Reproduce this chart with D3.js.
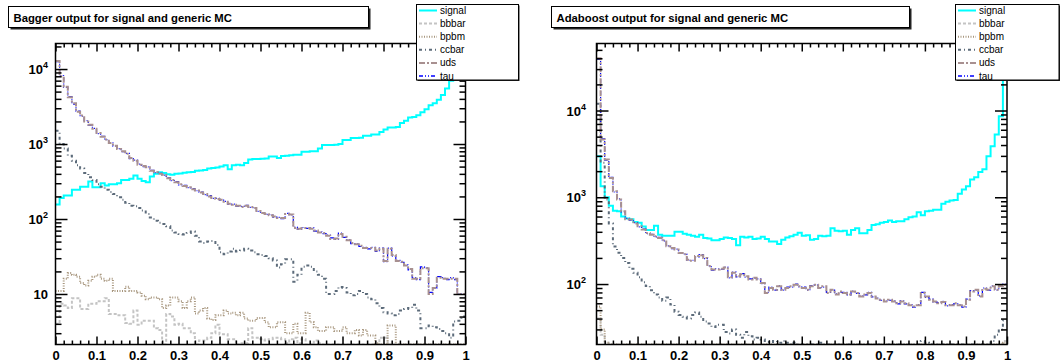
<!DOCTYPE html>
<html>
<head>
<meta charset="utf-8">
<script src="https://cdn.jsdelivr.net/npm/d3@7"></script>
<style>
  body { margin: 0; background: #fff; }
  svg { display: block; font-family: "Liberation Sans", Arial, Helvetica, sans-serif; }
</style>
</head>
<body>
<div id="chart"></div>
<script>
// 100 bins from 0 to 1, bin contents
const nBins = 100;
const seriesNames = ['signal', 'bbbar', 'bpbm', 'ccbar', 'uds', 'tau'];
const xTickLabels = ['0', '0.1', '0.2', '0.3', '0.4', '0.5', '0.6', '0.7', '0.8', '0.9', '1'];
const panelTitles = ['Bagger output for signal and generic MC', 'Adaboost output for signal and generic MC'];

// Bagger (left)
const baggerSignal = [156, 190, 205, 205, 245, 245, 270, 270, 316, 265,
  265, 300, 280, 290, 290, 300, 330, 330, 345, 380,
  345, 320, 310, 370, 400, 420, 410, 395, 390, 400,
  405, 415, 420, 425, 440, 445, 450, 470, 480, 485,
  500, 520, 460, 520, 530, 520, 560, 620, 630, 630,
  635, 640, 680, 680, 650, 690, 700, 710, 720, 720,
  790, 790, 800, 800, 870, 970, 970, 970, 980, 1000,
  1130, 1130, 1200, 1200, 1210, 1290, 1290, 1340, 1340, 1450,
  1560, 1660, 1660, 1680, 1910, 2040, 2260, 2300, 2420, 2660,
  2900, 3300, 3500, 3900, 4500, 5500, 7000, 8500, 11000, 14000];
const baggerBbbar = [4.0, 7.4, 7.0, 6.5, 8.8, 8.8, 6.3, 6.3, 7.4, 7.4,
  8.0, 8.0, 8.8, 5.4, 5.4, 5.2, 5.2, 4.1, 4.0, 6.0,
  3.9, 4.4, 4.4, 4.4, 3.5, 3.3, 2.0, 5.4, 5.0, 3.9,
  4.0, 3.5, 3.5, 3.0, 2.0, 2.4, 2.4, 2.6, 3.0, 3.9,
  2.9, 2.9, 2.5, 2.5, 2.0, 2.2, 2.2, 3.5, 2.6, 2.6,
  2.5, 2.4, 2.5, 2.6, 2.6, 2.5, 2.2, 2.5, 2.6, 2.2,
  2.5, 2.0, 2.0, 2.4, 2.2, 2.0, 2.0, 0, 0, 0,
  0, 0, 0, 0, 0, 0, 0, 0, 0, 2.6,
  2.6, 0, 0, 0, 0, 0, 0, 0, 0, 0,
  0, 0, 0, 0, 0, 0, 0, 0, 0, 0];
const baggerBpbm = [11, 11, 16, 19, 18, 17, 14, 13, 15, 17,
  18, 16, 15, 16, 11, 11, 11, 12.5, 11, 11,
  10.5, 9.5, 8.5, 9, 9, 8.5, 6.5, 7, 9, 9,
  8, 6.5, 8, 9, 5.5, 6, 6.5, 4.7, 4.5, 5.2,
  5.2, 6, 5.5, 5.6, 5.2, 5.6, 4.7, 4.4, 4.4, 4.8,
  4.8, 4.2, 3.6, 3.6, 4.2, 4.2, 3.0, 3.0, 4.0, 3.0,
  3.0, 5.6, 4.2, 3.6, 3.2, 3.2, 3.6, 3.6, 3.2, 3.2,
  3.6, 3.0, 3.0, 3.3, 2.8, 3.3, 2.8, 2.8, 2.2, 0,
  0, 3.8, 3.8, 0, 0, 0, 0, 0, 0, 0,
  0, 0, 0, 0, 0, 0, 0, 0, 0, 0];
const baggerCcbar = [1500, 1000, 870, 700, 600, 520, 470, 410, 360, 330,
  290, 270, 245, 230, 215, 195, 180, 165, 150, 148,
  140, 130, 117, 105, 95, 89, 86, 80, 70, 66,
  63, 62, 65, 68, 60, 50, 48, 50, 51, 45,
  36, 34, 37, 40, 37, 38, 40, 38, 36, 34,
  33, 32, 30, 28, 22.5, 25, 29, 29, 14.6, 18,
  23, 24, 23, 20, 18, 16, 10, 10, 11, 12.4,
  12, 10.5, 9.6, 10, 11, 10, 9, 8.5, 7.5, 6.5,
  5.7, 5.5, 5.2, 5.4, 6, 6.3, 6.5, 7.2, 6, 3.5,
  3.5, 3.8, 3.6, 3.4, 3.2, 3, 2.6, 4.3, 4.4, 5];
const baggerUds = [12800, 8000, 5800, 4200, 3500, 2700, 2400, 2000, 1800, 1600,
  1400, 1250, 1150, 1030, 950, 860, 800, 740, 650, 600,
  530, 510, 490, 440, 420, 400, 390, 350, 330, 310,
  290, 275, 265, 250, 240, 225, 215, 200, 190, 185,
  180, 170, 160, 155, 150, 145, 150, 145, 140, 128,
  120, 117, 112, 108, 103, 103, 117, 115, 76, 74,
  76, 76, 74, 70, 66, 65, 60, 54, 55, 63,
  58, 52, 48, 46, 44, 41, 41, 41, 38, 40,
  27.6, 40, 33, 27.6, 27, 24, 21.5, 16, 16, 22,
  22, 10, 12, 16.5, 16, 16, 16, 16, 10, 10];
const baggerTau = [12500, 8200, 5700, 4300, 3400, 2750, 2350, 2050, 1780, 1620,
  1380, 1270, 1140, 1040, 940, 870, 790, 750, 640, 610,
  540, 500, 495, 445, 415, 405, 385, 355, 325, 315,
  285, 280, 262, 255, 238, 228, 212, 205, 188, 188,
  178, 172, 158, 158, 148, 147, 152, 143, 142, 126,
  122, 115, 114, 106, 105, 101, 119, 113, 78, 73,
  77, 75, 76, 69, 67, 64, 61, 56, 54, 65,
  57, 53, 47, 47, 43, 42, 40, 42, 37, 41,
  27, 41, 32, 28, 26.5, 24.5, 21, 16.5, 15.5, 23,
  22.5, 10.5, 12, 17, 16.5, 15.5, 16.5, 15.5, 10, 10];

// Adaboost (right)
const adaSignal = [2970, 1340, 1000, 800, 700, 690, 600, 570, 560, 520,
  510, 460, 420, 420, 470, 370, 360, 360, 360, 400,
  400, 380, 370, 360, 350, 370, 340, 335, 320, 320,
  330, 345, 340, 330, 280, 350, 345, 350, 330, 335,
  350, 330, 310, 310, 290, 325, 345, 355, 370, 390,
  360, 365, 325, 330, 360, 355, 360, 440, 410, 405,
  410, 370, 420, 440, 385, 385, 420, 480, 490, 510,
  520, 540, 520, 530, 530, 560, 590, 600, 670, 620,
  690, 700, 720, 720, 840, 890, 920, 930, 1100, 1230,
  1340, 1600, 1700, 1950, 2100, 2970, 3870, 5300, 8600, 25000];
const adaBbbar = [40, 26, 21, 0, 0, 0, 0, 0, 0, 0,
  0, 0, 0, 0, 0, 0, 0, 0, 0, 0,
  0, 0, 0, 0, 0, 0, 0, 0, 0, 0,
  0, 0, 0, 0, 0, 0, 0, 0, 0, 0,
  0, 0, 0, 0, 0, 0, 0, 0, 0, 0,
  0, 0, 0, 0, 0, 0, 0, 0, 0, 0,
  0, 0, 0, 0, 0, 0, 0, 0, 0, 0,
  0, 0, 0, 0, 0, 0, 0, 0, 0, 0,
  21, 0, 0, 0, 0, 0, 0, 0, 0, 0,
  0, 0, 0, 0, 0, 0, 0, 0, 0, 22];
const adaBpbm = [55, 30, 21, 0, 0, 0, 0, 0, 0, 0,
  0, 0, 0, 0, 0, 0, 0, 0, 0, 0,
  0, 0, 0, 0, 0, 0, 0, 0, 0, 0,
  0, 0, 0, 0, 0, 0, 0, 0, 0, 0,
  0, 0, 0, 0, 0, 0, 0, 0, 0, 0,
  0, 0, 0, 0, 0, 0, 0, 0, 0, 0,
  0, 0, 0, 0, 0, 0, 0, 0, 0, 0,
  0, 0, 0, 0, 0, 0, 0, 0, 0, 0,
  0, 0, 0, 0, 0, 0, 0, 0, 0, 0,
  0, 0, 0, 0, 0, 0, 0, 0, 0, 21];
const adaCcbar = [12000, 2500, 940, 500, 270, 230, 200, 175, 150, 135,
  120, 105, 95, 85, 76, 70, 64, 70, 58, 48,
  44, 42, 40, 44, 47, 42, 37, 35, 32, 34,
  34, 28, 27, 30, 26, 24, 28, 25, 23, 24,
  23, 22, 21.5, 22, 21, 22, 21, 20, 21, 20,
  19.5, 19, 20, 19, 21, 19, 18, 19, 20, 18,
  19, 18, 17, 18, 19, 17, 18, 17, 18, 17,
  18, 17, 18, 19, 18, 17, 18, 19, 20, 22,
  21, 19, 18, 17, 18, 17, 18, 17, 18, 19,
  17, 18, 17, 18, 19, 20, 22, 26, 30, 38];
const adaUds = [40000, 4630, 2720, 1670, 1170, 940, 690, 560, 553, 500,
  463, 425, 388, 370, 355, 340, 320, 272, 260, 250,
  228, 220, 191, 185, 210, 215, 200, 160, 147, 147,
  150, 155, 120, 135, 123, 130, 123, 113, 118, 113,
  103, 79, 90, 86, 94, 86, 90, 94, 98, 94,
  90, 86, 94, 98, 90, 94, 79, 86, 76, 82,
  79, 76, 82, 79, 72, 76, 79, 72, 68, 66,
  63, 66, 63, 60, 63, 60, 57, 55, 57, 79,
  72, 66, 63, 60, 62, 57, 57, 60, 57, 55,
  66, 82, 86, 72, 88, 86, 94, 86, 95, 98];
const adaTau = [39000, 4700, 2680, 1700, 1150, 960, 680, 570, 545, 510,
  455, 430, 380, 375, 350, 345, 315, 275, 255, 252,
  225, 222, 188, 188, 205, 218, 196, 162, 145, 150,
  148, 157, 118, 137, 121, 132, 120, 115, 116, 115,
  101, 80, 92, 85, 96, 85, 92, 92, 100, 93,
  92, 85, 96, 97, 91, 92, 80, 85, 77, 80,
  80, 75, 83, 78, 73, 75, 80, 71, 69, 65,
  64, 65, 64, 59, 64, 59, 58, 54, 58, 80,
  70, 67, 62, 61, 63, 56, 58, 59, 58, 54,
  67, 84, 85, 73, 90, 85, 95, 85, 97, 100];

// line styles per series
const seriesStyle = {
  signal: { color: '#00ffff', width: 2, dash: null },
  bbbar:  { color: '#c4c4c4', width: 2, dash: '3,2' },
  bpbm:   { color: '#a8977f', width: 2, dash: '1,1.5' },
  ccbar:  { color: '#5c6b7a', width: 2, dash: '3,3,1,3' },
  uds:    { color: '#a89090', width: 2, dash: '6,2,2,2' },
  tau:    { color: '#0000ff', width: 1.2, dash: '4,2,1,2,1,2' }
};
// tau is drawn under uds, so only bits of it show
const drawOrder = ['signal', 'bbbar', 'bpbm', 'ccbar', 'tau', 'uds'];

const width = 1061, height = 364;
const binEdges = d3.range(nBins + 1).map(i => i / nBins);

const panels = [
  {
    title: panelTitles[0],
    data: { signal: baggerSignal, bbbar: baggerBbbar, bpbm: baggerBpbm, ccbar: baggerCcbar, uds: baggerUds, tau: baggerTau },
    frame: { x0: 55.5, x1: 465.5, y0: 43.5, y1: 344.5 },
    yDomain: [2.12, 21900],
    yLabelRight: 48,
    titleBox: { x: 8.5, y: 6.5, w: 360, h: 21 },
    legend: { x: 416.5, y: 4.5, w: 102, h: 75.5, lx0: 419, lx1: 437, tx: 440 }
  },
  {
    title: panelTitles[1],
    data: { signal: adaSignal, bbbar: adaBbbar, bpbm: adaBpbm, ccbar: adaCcbar, uds: adaUds, tau: adaTau },
    frame: { x0: 596.5, x1: 1007, y0: 43.5, y1: 344.5 },
    yDomain: [20.1, 59200],
    yLabelRight: 586,
    titleBox: { x: 551.5, y: 6.5, w: 358, h: 21 },
    legend: { x: 955.5, y: 4.5, w: 103.5, h: 75.5, lx0: 958, lx1: 976, tx: 979 }
  }
];

const svg = d3.select('#chart')
  .append('svg')
  .attr('width', width)
  .attr('height', height);

svg.append('rect').attr('width', width).attr('height', height).attr('fill', '#fff');

panels.forEach((p, pi) => drawPanel(p, pi));

function drawPanel(p, pi) {
  const f = p.frame;
  const x = d3.scaleLinear().domain([0, 1]).range([f.x0, f.x1]);
  const y = d3.scaleLog().domain(p.yDomain).range([f.y1, f.y0]).clamp(true);
  const g = svg.append('g');

  // clip the histograms to the frame
  const clipId = 'clip' + pi;
  svg.append('clipPath').attr('id', clipId)
    .append('rect')
    .attr('x', f.x0).attr('y', f.y0)
    .attr('width', f.x1 - f.x0).attr('height', f.y1 - f.y0);

  const line = d3.line();
  const hists = g.append('g').attr('clip-path', `url(#${clipId})`);

  drawOrder.forEach(name => {
    const vals = p.data[name];
    const st = seriesStyle[name];
    const pts = [];
    vals.forEach((v, i) => {
      const yy = y(v > 0 ? v : p.yDomain[0] * 0.5);
      pts.push([x(binEdges[i]), yy], [x(binEdges[i + 1]), yy]);
    });
    hists.append('path')
      .attr('d', line(pts))
      .attr('fill', 'none')
      .attr('stroke', st.color)
      .attr('stroke-width', st.width)
      .attr('stroke-dasharray', st.dash)
      .attr('stroke-linejoin', 'miter');
  });

  // x axes, ticks pointing inward
  const xMajor = d3.range(0, 11).map(i => i / 10);
  const xMinor = d3.range(0, 51).map(i => i / 50).filter(v => Math.round(v * 50) % 5 !== 0);

  const bottom = g.append('g').attr('transform', `translate(0,${f.y1})`);
  bottom.call(d3.axisBottom(x).tickValues(xMajor).tickSize(-8).tickSizeOuter(0).tickPadding(6)
    .tickFormat((d, i) => xTickLabels[i]));
  bottom.append('g').call(d3.axisBottom(x).tickValues(xMinor).tickSize(-4).tickSizeOuter(0).tickFormat(''));

  const top = g.append('g').attr('transform', `translate(0,${f.y0})`);
  top.call(d3.axisTop(x).tickValues(xMajor).tickSize(-8).tickSizeOuter(0).tickFormat(''));
  top.append('g').call(d3.axisTop(x).tickValues(xMinor).tickSize(-4).tickSizeOuter(0).tickFormat(''));

  // log y axes on both sides
  const lo = Math.floor(Math.log10(p.yDomain[0]));
  const hi = Math.ceil(Math.log10(p.yDomain[1]));
  const decades = d3.range(lo, hi + 1).map(e => Math.pow(10, e))
    .filter(v => v >= p.yDomain[0] && v <= p.yDomain[1]);
  const yMinor = [];
  d3.range(lo, hi + 1).forEach(e => {
    for (let k = 2; k <= 9; k++) {
      const v = k * Math.pow(10, e);
      if (v >= p.yDomain[0] && v <= p.yDomain[1]) yMinor.push(v);
    }
  });

  const left = g.append('g').attr('transform', `translate(${f.x0},0)`);
  left.call(d3.axisLeft(y).tickValues(decades).tickSize(-12).tickSizeOuter(0).tickFormat(''));
  left.append('g').call(d3.axisLeft(y).tickValues(yMinor).tickSize(-6).tickSizeOuter(0).tickFormat(''));

  const right = g.append('g').attr('transform', `translate(${f.x1},0)`);
  right.call(d3.axisRight(y).tickValues(decades).tickSize(-12).tickSizeOuter(0).tickFormat(''));
  right.append('g').call(d3.axisRight(y).tickValues(yMinor).tickSize(-6).tickSizeOuter(0).tickFormat(''));

  g.selectAll('.domain').remove();
  g.selectAll('.tick line').attr('stroke', '#000').attr('stroke-width', 1.5);
  bottom.selectAll('.tick text')
    .attr('fill', '#000')
    .style('font-size', '13px')
    .style('font-weight', 'bold')
    .style('font-family', '"Liberation Sans", Arial, sans-serif');

  // y labels: 10, 10^2, 10^3 ...
  const yl = g.append('g');
  decades.forEach(v => {
    const e = Math.round(Math.log10(v));
    const t = yl.append('text')
      .attr('x', p.yLabelRight)
      .attr('y', y(v) + 5)
      .attr('text-anchor', 'end')
      .attr('fill', '#000')
      .style('font-size', '13px')
      .style('font-weight', 'bold');
    t.append('tspan').text('10');
    if (e > 1) {
      t.append('tspan').attr('dy', -6).style('font-size', '9px').text(String(e));
    }
  });

  // frame
  g.append('rect')
    .attr('x', f.x0).attr('y', f.y0)
    .attr('width', f.x1 - f.x0).attr('height', f.y1 - f.y0)
    .attr('fill', 'none').attr('stroke', '#000').attr('stroke-width', 1.5);

  // title box with shadow
  const tb = p.titleBox;
  g.append('rect').attr('x', tb.x + 2).attr('y', tb.y + 2).attr('width', tb.w).attr('height', tb.h).attr('fill', '#222');
  g.append('rect').attr('x', tb.x).attr('y', tb.y).attr('width', tb.w).attr('height', tb.h)
    .attr('fill', '#fff').attr('stroke', '#000').attr('stroke-width', 1);
  g.append('text')
    .attr('x', tb.x + 5).attr('y', tb.y + 15)
    .attr('fill', '#000')
    .style('font-size', '11.3px')
    .style('font-weight', 'bold')
    .text(p.title);

  // legend
  const lg = p.legend;
  g.append('rect').attr('x', lg.x + 1).attr('y', lg.y + 1).attr('width', lg.w).attr('height', lg.h).attr('fill', '#222');
  g.append('rect').attr('x', lg.x).attr('y', lg.y).attr('width', lg.w).attr('height', lg.h)
    .attr('fill', '#fff').attr('stroke', '#000').attr('stroke-width', 1);
  seriesNames.forEach((name, i) => {
    const cy = 10.5 + i * 13.1;
    const st = seriesStyle[name];
    g.append('line')
      .attr('x1', lg.lx0).attr('x2', lg.lx1)
      .attr('y1', cy).attr('y2', cy)
      .attr('stroke', st.color)
      .attr('stroke-width', name === 'tau' ? 1.5 : st.width)
      .attr('stroke-dasharray', st.dash);
    g.append('text')
      .attr('x', lg.tx).attr('y', cy + 3.5)
      .attr('fill', '#000')
      .style('font-size', '10px')
      .text(name);
  });
}
</script>
</body>
</html>
